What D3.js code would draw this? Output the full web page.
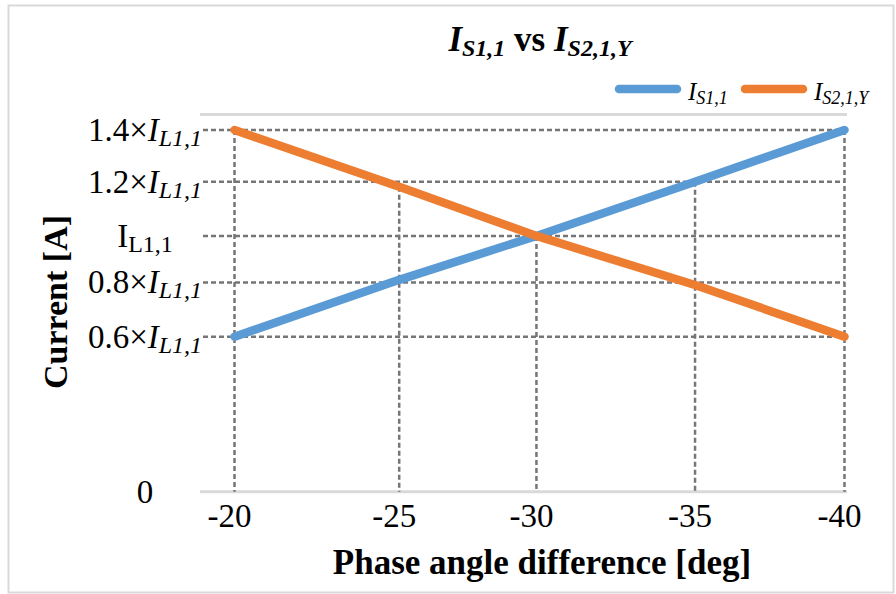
<!DOCTYPE html>
<html>
<head>
<meta charset="utf-8">
<script src="https://cdn.jsdelivr.net/npm/d3@7"></script>
<style>
  body { margin: 0; background: #fff; }
  text { font-family: "Liberation Serif", "Times New Roman", serif; fill: #000; }
</style>
</head>
<body>
<div class="chart"></div>
<script>
// data
var phaseAngles = [-20, -25.4, -29.9, -35.1, -40];
var xTickLabels = ['-20', '-25', '-30', '-35', '-40'];
var currentS1 = [0.6, 0.82, 0.99, 1.2, 1.4];
var currentS2 = [1.4, 1.18, 0.99, 0.8, 0.6];
var guideValues = [0.6, 0.81, 0.99, 1.2, 1.4];
var yTickValues = [0, 0.6, 0.81, 0.99, 1.2, 1.4];
var yTickLabels = [
  [{t: '0'}],
  [{t: '0.6×'}, {t: 'I', i: true}, {t: 'L1,1', i: true, sub: true}],
  [{t: '0.8×'}, {t: 'I', i: true}, {t: 'L1,1', i: true, sub: true}],
  [{t: 'I'}, {t: 'L1,1', sub: true}],
  [{t: '1.2×'}, {t: 'I', i: true}, {t: 'L1,1', i: true, sub: true}],
  [{t: '1.4×'}, {t: 'I', i: true}, {t: 'L1,1', i: true, sub: true}]
];
var yMax = 1.46;
var seriesNames = [
  [{t: 'I', i: true}, {t: 'S1,1', i: true, sub: true}],
  [{t: 'I', i: true}, {t: 'S2,1,Y', i: true, sub: true}]
];
var seriesColors = ['#5b9bd5', '#ed7d31'];

var opts = {
  width: 896,
  height: 594,
  left: 200,
  right: 847
};

var x = d3.scaleLinear().domain([-20, -40]).range([234.5, 844.5]);
var y = d3.scaleLinear().domain([0, yMax]).range([491.7, 114.5]);

var svg = d3.select('.chart').append('svg')
  .attr('width', opts.width)
  .attr('height', opts.height);

// writes a bit of text with subscripts into a text element
var richText = function(sel, parts, size, subSize, shift) {
  var down = false;
  parts.forEach(function(p) {
    var dy = 0;
    if (p.sub && !down) { dy = shift; down = true; }
    else if (!p.sub && down) { dy = -shift; down = false; }
    sel.append('tspan')
      .attr('dy', dy)
      .style('font-style', p.i ? 'italic' : 'normal')
      .style('font-size', (p.sub ? subSize : size) + 'px')
      .text(p.t);
  });
};

svg.append('rect')
  .attr('x', 8.5).attr('y', 5.5)
  .attr('width', 885).attr('height', 587)
  .attr('fill', '#fff')
  .attr('stroke', '#d9d9d9')
  .attr('stroke-width', 2);

// top gridline and x axis line
svg.selectAll('.edge').data([yMax, 0]).enter().append('line')
  .attr('class', 'edge')
  .attr('x1', opts.left).attr('x2', opts.right)
  .attr('y1', d => y(d)).attr('y2', d => y(d))
  .attr('stroke', '#d9d9d9')
  .attr('stroke-width', 3);

// dashed guides
svg.selectAll('.hguide').data(guideValues).enter().append('line')
  .attr('class', 'hguide')
  .attr('x1', 203).attr('x2', x(-40))
  .attr('y1', d => y(d)).attr('y2', d => y(d))
  .attr('stroke', '#767676')
  .attr('stroke-width', 2.5)
  .attr('stroke-dasharray', '5,3');

svg.selectAll('.vguide').data(phaseAngles).enter().append('line')
  .attr('class', 'vguide')
  .attr('x1', d => x(d)).attr('x2', d => x(d))
  .attr('y1', (d, i) => y(Math.max(currentS1[i], currentS2[i])))
  .attr('y2', y(0))
  .attr('stroke', '#767676')
  .attr('stroke-width', 2.5)
  .attr('stroke-dasharray', '5,3');

// series lines
var line = d3.line()
  .x((d, i) => x(phaseAngles[i]))
  .y(d => y(d));

[currentS1, currentS2].forEach(function(s, k) {
  svg.append('path')
    .attr('d', line(s))
    .attr('fill', 'none')
    .attr('stroke', seriesColors[k])
    .attr('stroke-width', 8.5)
    .attr('stroke-linecap', 'round')
    .attr('stroke-linejoin', 'round');
});

// x tick labels
svg.selectAll('.xtick').data(phaseAngles).enter().append('text')
  .attr('class', 'xtick')
  .attr('x', d => x(d) - 5)
  .attr('y', 527)
  .attr('text-anchor', 'middle')
  .style('font-size', '33px')
  .text((d, i) => xTickLabels[i]);

// y tick labels
yTickValues.forEach(function(v, i) {
  var t = svg.append('text')
    .attr('x', 145)
    .attr('y', y(v) + 11)
    .attr('text-anchor', 'middle');
  richText(t, yTickLabels[i], 33, 24, 5);
});

// title
var title = svg.append('text')
  .attr('x', 540).attr('y', 51)
  .attr('text-anchor', 'middle')
  .style('font-weight', 'bold');
richText(title, [
  {t: 'I', i: true}, {t: 'S1,1', i: true, sub: true},
  {t: ' vs '}, {t: 'I', i: true}, {t: 'S2,1,Y', i: true, sub: true}
], 35, 24, 5);

// legend
var legendX = [619, 745];
seriesNames.forEach(function(name, k) {
  svg.append('line')
    .attr('x1', legendX[k]).attr('x2', legendX[k] + 58)
    .attr('y1', 89).attr('y2', 89)
    .attr('stroke', seriesColors[k])
    .attr('stroke-width', 8.5)
    .attr('stroke-linecap', 'round');
  var t = svg.append('text')
    .attr('x', legendX[k] + 69)
    .attr('y', 100);
  richText(t, name, 25, 18, 4);
});

// axis titles
svg.append('text')
  .attr('x', 542).attr('y', 574)
  .attr('text-anchor', 'middle')
  .style('font-size', '35px')
  .style('font-weight', 'bold')
  .text('Phase angle difference [deg]');

svg.append('text')
  .attr('transform', 'translate(67,302) rotate(-90)')
  .attr('text-anchor', 'middle')
  .style('font-size', '34px')
  .style('font-weight', 'bold')
  .text('Current [A]');
</script>
</body>
</html>
